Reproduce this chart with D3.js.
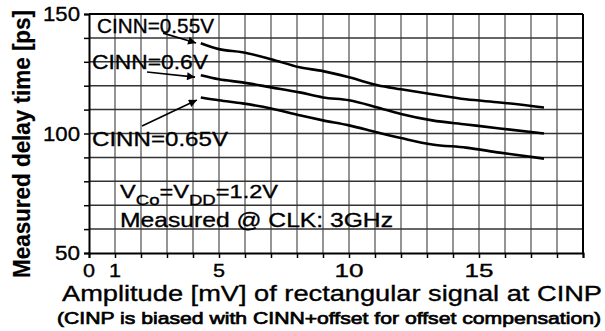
<!DOCTYPE html>
<html><head><meta charset="utf-8">
<script src="https://cdn.jsdelivr.net/npm/d3@7"></script>
<style>
html,body{margin:0;padding:0;background:#fff;}
svg text{font-family:"Liberation Sans",Arial,sans-serif;fill:#000;stroke:#000;stroke-width:0.35px;}
</style></head>
<body>
<svg id="c" width="605" height="331"></svg>
<script>
// ---- data ----
const amplitude = [4.3, 5.0, 5.9, 7.0, 8.1, 9.0, 10.0, 11.1, 12.0, 13.2, 14.5, 15.8, 17.5];
const delay055 = [137.8, 135.3, 134.0, 131.1, 127.7, 126.1, 123.5, 120.2, 118.5, 116.4, 114.3, 113.0, 110.9];
const delay060 = [124.4, 122.7, 121.4, 119.3, 117.2, 115.1, 113.9, 110.9, 108.2, 105.5, 103.8, 102.1, 100.0];
const delay065 = [115.1, 113.9, 112.6, 110.5, 107.6, 105.5, 103.4, 100.4, 98.1, 95.4, 94.1, 92.0, 89.5];
const seriesLabels = ["CINN=0.55V", "CINN=0.6V", "CINN=0.65V"];
const xTickLabels = [0, 1, 5, 10, 15];
const yTickLabels = [150, 100, 50];
// arrow annotations [fromX, fromY, toX, toY] in data units
const arrows = [[2.85, 142.0, 4.12, 137.9], [2.23, 125.7, 4.08, 123.6], [2.04, 103.1, 4.15, 114.0]];

const svg = d3.select("#c");
const x = d3.scaleLinear().domain([0, 19]).range([89, 583]);
const y = d3.scaleLinear().domain([50, 150]).range([253, 14]);

function fit(sel, w) {
  sel.each(function () { this.setAttribute("textLength", w); this.setAttribute("lengthAdjust", "spacingAndGlyphs"); });
  return sel;
}

// grid
const g = svg.append("g");
g.selectAll(".vg").data(d3.range(1, 19)).join("line")
  .attr("x1", d => x(d)).attr("x2", d => x(d)).attr("y1", y(150)).attr("y2", y(50))
  .attr("stroke", "#7a7a7a").attr("stroke-width", 1.6);
g.selectAll(".hg").data(d3.range(60, 150, 10)).join("line")
  .attr("x1", x(0)).attr("x2", x(19)).attr("y1", d => y(d)).attr("y2", d => y(d))
  .attr("stroke", "#333").attr("stroke-width", 1.5);

// axes
const xAxis = d3.axisBottom(x).tickValues(d3.range(0, 20)).tickSize(5).tickFormat("");
const yAxis = d3.axisLeft(y).tickValues(d3.range(50, 151, 10)).tickSize(5).tickFormat("");
const xa = svg.append("g").attr("transform", `translate(0,${y(50)})`).call(xAxis);
const ya = svg.append("g").attr("transform", `translate(${x(0)},0)`).call(yAxis);
[xa, ya].forEach(a => { a.selectAll("path").attr("stroke", "#000").attr("stroke-width", 2);
  a.selectAll("line").attr("stroke", "#000").attr("stroke-width", 1.5); });
// frame top/right
svg.append("line").attr("x1", x(0)).attr("x2", x(19)).attr("y1", y(150)).attr("y2", y(150)).attr("stroke", "#000").attr("stroke-width", 2);
svg.append("line").attr("x1", x(19)).attr("x2", x(19)).attr("y1", y(150)).attr("y2", y(50)).attr("stroke", "#000").attr("stroke-width", 2);

// tick labels
svg.selectAll(".xt").data(xTickLabels).join("text")
  .attr("x", d => x(d)).attr("y", 277).attr("text-anchor", "middle")
  .attr("font-size", 18).text(d => d)
  .each(function (d) { fit(d3.select(this), String(d).length > 1 ? 29 : 12); });
svg.selectAll(".yt").data(yTickLabels).join("text")
  .attr("x", 80).attr("y", d => y(d) + 7).attr("text-anchor", "end")
  .attr("font-size", 20).text(d => d)
  .each(function (d) { fit(d3.select(this), String(d).length > 2 ? 37 : 25); });

// curves
const line = d3.line().x(d => x(d[0])).y(d => y(d[1])).curve(d3.curveMonotoneX);
[delay055, delay060, delay065].forEach(s => {
  svg.append("path").attr("d", line(amplitude.map((a, i) => [a, s[i]])))
    .attr("fill", "none").attr("stroke", "#000").attr("stroke-width", 2.6).attr("stroke-linejoin", "round");
});

// arrows
svg.append("defs").append("marker").attr("id", "ah").attr("viewBox", "0 0 10 10")
  .attr("refX", 10).attr("refY", 5).attr("markerWidth", 11).attr("markerHeight", 8)
  .attr("markerUnits", "userSpaceOnUse").attr("orient", "auto")
  .append("path").attr("d", "M0,0L10,5L0,10Z").attr("fill", "#000");
svg.selectAll(".ar").data(arrows).join("line")
  .attr("x1", d => x(d[0])).attr("y1", d => y(d[1])).attr("x2", d => x(d[2])).attr("y2", d => y(d[3]))
  .attr("stroke", "#000").attr("stroke-width", 1.6).attr("marker-end", "url(#ah)");

// series labels
const labPos = [[97, 33, 117], [92, 69, 116], [92, 146, 136]];
seriesLabels.forEach((t, i) => {
  fit(svg.append("text").attr("x", labPos[i][0]).attr("y", labPos[i][1]).attr("font-size", 21).text(t), labPos[i][2]);
});

// conditions
const t1 = svg.append("text").attr("x", 120).attr("y", 198).attr("font-size", 19);
t1.append("tspan").text("V");
t1.append("tspan").attr("font-size", 15).attr("dy", 7).text("Co");
t1.append("tspan").attr("dy", -7).text("=V");
t1.append("tspan").attr("font-size", 15).attr("dy", 7).text("DD");
t1.append("tspan").attr("dy", -7).text("=1.2V");
fit(t1, 158);
fit(svg.append("text").attr("x", 120).attr("y", 227).attr("font-size", 21).text("Measured @ CLK: 3GHz"), 273);

// axis titles
fit(svg.append("text").attr("x", 62).attr("y", 301).attr("font-size", 22)
  .text("Amplitude [mV] of rectangular signal at CINP"), 540);
fit(svg.append("text").attr("x", 57).attr("y", 324).attr("font-size", 17).style("stroke-width", "0.7px")
  .text("(CINP is biased with CINN+offset for offset compensation)"), 544);
fit(svg.append("text").attr("transform", "translate(30,144) rotate(-90)").attr("text-anchor", "middle")
  .attr("font-size", 23).attr("font-weight", "bold").style("stroke-width", "0.2px").text("Measured delay time [ps]"), 268);
</script>
</body></html>
